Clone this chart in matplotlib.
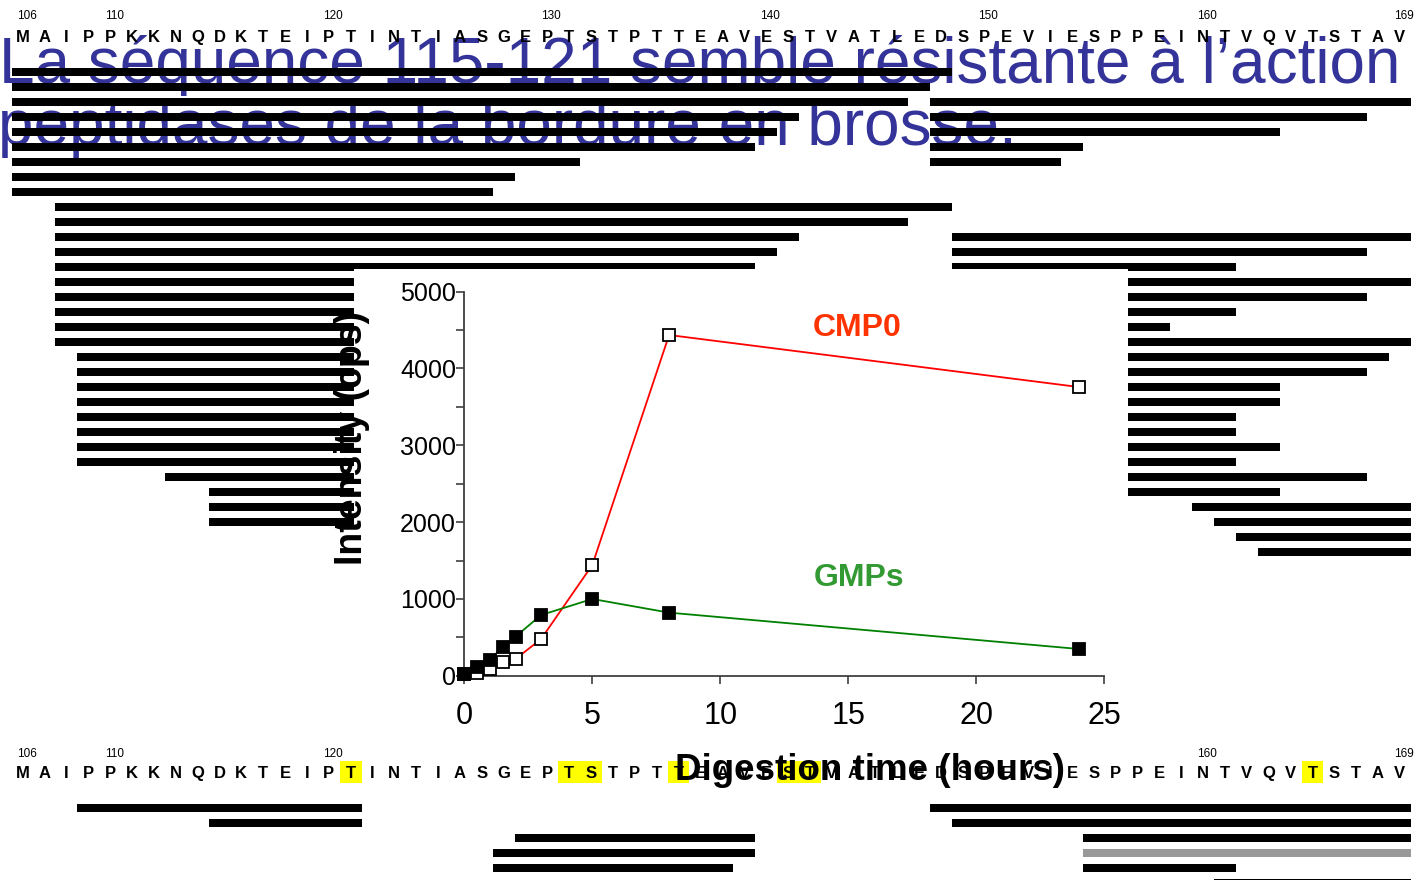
import matplotlib
matplotlib.use("Agg")
import matplotlib.pyplot as plt
from matplotlib.patches import Rectangle
from matplotlib.ticker import MultipleLocator

plt.rcParams['font.family'] = ['Liberation Sans', 'DejaVu Sans']

# kappa-casein CMP sequence 106-169
sequence = "MAIPPKKNQDKTEIPTINTIASGEPTSTPTTEAVESTVATLEDSPEVIESPPEINTVQVTSTAV"
first_res = 106
number_marks = [106, 110, 120, 130, 140, 150, 160, 169]
highlight_res = [121, 131, 132, 136, 141, 142, 165]

# peptides found (row, first residue, last residue)
top_rows = [0, 1, 2, 2, 3, 3, 4, 4, 5, 5, 6, 6, 7, 8,
            9, 10, 11, 11, 12, 12, 13, 13,
            14, 15, 16, 17, 18, 19, 20, 21, 22, 23, 24, 25, 26, 27, 28,
            29, 29, 30, 30, 31, 32]
top_start = [106, 106, 106, 148, 106, 148, 106, 148, 106, 148, 106, 148, 106, 106,
             108, 108, 108, 149, 108, 149, 108, 149,
             108, 108, 108, 108, 108, 109, 109, 109, 109, 109, 109, 109, 109, 113, 115,
             115, 160, 115, 161, 162, 163]
top_end = [148, 147, 146, 169, 141, 167, 140, 163, 139, 154, 131, 153, 128, 127,
           148, 146, 141, 169, 140, 167, 139, 161,
           169, 167, 161, 158, 169, 168, 167, 163, 163, 161, 161, 163, 161, 167, 163,
           125, 169, 125, 169, 169, 169]

bottom_rows = [0, 0, 1, 1, 2, 2, 3, 3, 4, 4, 5]
bottom_start = [109, 148, 115, 149, 129, 155, 128, 155, 128, 155, 161]
bottom_end = [121, 169, 121, 169, 139, 169, 139, 169, 138, 161, 169]
bottom_gray = [False, False, False, False, False, False, False, True, False, False, False]

# digestion kinetics
time_h = [0, 0.5, 1, 1.5, 2, 3, 5, 8, 24]
cmp0 = [20, 40, 87, 174, 217, 478, 1441, 4436, 3759]
gmps = [22, 117, 204, 378, 508, 790, 999, 821, 348]

W, H = 1422, 880
fig = plt.figure(figsize=(W / 100, H / 100), dpi=100)
ax = fig.add_axes([0, 0, 1, 1])

x0_px, step_px = 22.7, 21.86


def px2r(x):
    return first_res + (x - x0_px) / step_px


ax.set_xlim(px2r(0), px2r(W))
ax.set_ylim(H, 0)
ax.axis('off')

# sequence rows
for i, aa in enumerate(sequence):
    r = first_res + i
    for yb in (41.7, 778.3):
        ax.text(r, yb, aa, ha='center', va='baseline', fontsize=12,
                fontweight='bold', zorder=4)
for r in number_marks:
    for yb in (19.3, 756.7):
        ax.text(r + 0.18, yb, str(r), ha='center', va='baseline', fontsize=8.5, zorder=2)
for r in highlight_res:
    ax.add_patch(Rectangle((r - 0.5, 760.7), 1, 22, facecolor='#FFFF00',
                           edgecolor='none', zorder=1))

# blue overlay text
ax.text(px2r(-1), 83, "La séquence 115-121 semble résistante à l\u2019action",
        fontsize=46, color='#333399', va='baseline', ha='left', zorder=1)
ax.text(px2r(-2), 145, "peptidases de la bordure en brosse.",
        fontsize=46, color='#333399', va='baseline', ha='left', zorder=1)

# peptide bars
top_y = [71.7 + 15 * k for k in top_rows]
ax.barh(top_y, [e - s + 1 for s, e in zip(top_start, top_end)],
        left=[s - 0.5 for s in top_start], height=8, color='black', zorder=3)
bot_y = [807.7 + 15 * k for k in bottom_rows]
ax.barh(bot_y, [e - s + 1 for s, e in zip(bottom_start, bottom_end)],
        left=[s - 0.5 for s in bottom_start], height=8,
        color=['#999999' if g else 'black' for g in bottom_gray], zorder=3)

# white backdrop of the chart
ax.add_patch(Rectangle((px2r(354), 269), px2r(1128) - px2r(354), 491,
                       facecolor='white', edgecolor='none', zorder=5))

# kinetics chart
ax2 = fig.add_axes([464.3 / W, (H - 675.7) / H, 640 / W, 384 / H])
ax2.patch.set_alpha(0)
ax2.plot(time_h, cmp0, color='#FF0000', lw=1.3, marker='s', ms=8,
         mfc='white', mec='black', mew=1.3, clip_on=False, zorder=3)
ax2.plot(time_h, gmps, color='#008000', lw=1.3, marker='s', ms=8,
         mfc='black', mec='black', mew=1.3, clip_on=False, zorder=4)
ax2.set_xlim(0, 25)
ax2.set_ylim(0, 5000)
ax2.xaxis.set_major_locator(MultipleLocator(5))
ax2.yaxis.set_major_locator(MultipleLocator(1000))
ax2.yaxis.set_minor_locator(MultipleLocator(500))
for s in ('top', 'right'):
    ax2.spines[s].set_visible(False)
for s in ('left', 'bottom'):
    ax2.spines[s].set_color('#404040')
    ax2.spines[s].set_linewidth(1.3)
ax2.tick_params(axis='x', direction='out', length=6, width=1.2, color='#404040',
                labelsize=22, pad=12)
ax2.tick_params(axis='y', which='both', direction='out', length=6, width=1.2,
                color='#404040', labelsize=18, pad=0)

ax2.text(13.6, 4420, 'CMP0', color='#FF3300', fontsize=23, fontweight='bold',
         va='baseline', ha='left')
ax2.text(13.65, 1168, 'GMPs', color='#339933', fontsize=23, fontweight='bold',
         va='baseline', ha='left')

ax2.set_ylabel('Intensity (cps)', fontsize=27, fontweight='bold')
ax2.yaxis.label.set_va('center')
ax2.yaxis.set_label_coords(-0.1747, 0.619)
ax2.set_xlabel('Digestion time (hours)', fontsize=26.5, fontweight='bold')
ax2.xaxis.label.set_va('baseline')
ax2.xaxis.set_label_coords(0.634, -0.2716)

fig.savefig('out.png', dpi=100)
